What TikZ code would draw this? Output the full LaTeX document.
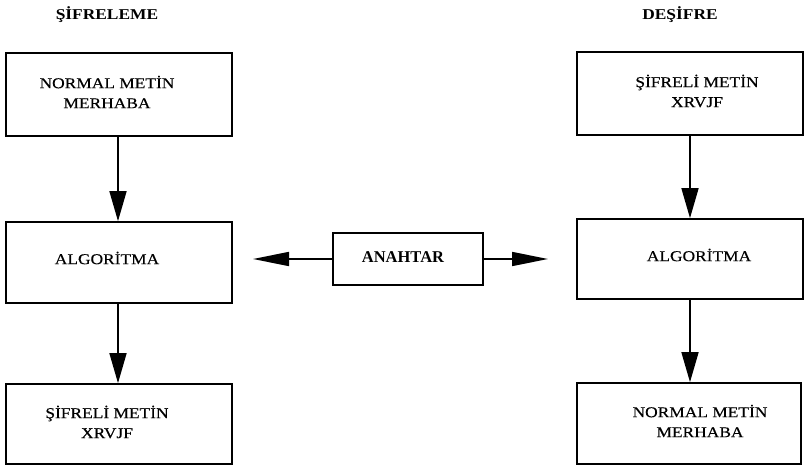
\documentclass[tikz,border=0pt]{standalone}
\usepackage{fontspec}
\setmainfont{Liberation Serif}
\newfontfamily\widefont[FakeStretch=1.16]{Liberation Serif}
\newfontfamily\widedark[FakeStretch=1.16,FakeBold=0.4]{Liberation Serif}
\usetikzlibrary{arrows.meta}
\tikzset{
  box/.style={draw, line width=1.7pt, rectangle, inner sep=0pt},
  txt/.style={font=\widedark\fontsize{15}{20}\selectfont, align=center, inner sep=0pt},
  ttl/.style={font=\widefont\bfseries\fontsize{15}{18}\selectfont, inner sep=0pt},
  vflow/.style={line width=1.6pt, -{Triangle[length=30pt,width=17pt]}},
  hflow/.style={line width=1.6pt, -{Triangle[length=36pt,width=14pt]}}
}
\begin{document}
\begin{tikzpicture}[x=1pt,y=1pt]
\useasboundingbox (0,0) rectangle (806,-466);
% titles
\node[ttl] (t1) at (107,-15) {ŞİFRELEME};
\node[ttl] (t2) at (680,-15) {DEŞİFRE};
% left column boxes
\node[box, minimum width=226pt, minimum height=83pt] (L1) at (119,-94.5) {};
\node[box, minimum width=226pt, minimum height=81pt] (L2) at (119,-262.5) {};
\node[box, minimum width=226pt, minimum height=80pt] (L3) at (119,-424) {};
% right column boxes
\node[box, minimum width=226pt, minimum height=83pt] (R1) at (690,-93.5) {};
\node[box, minimum width=226pt, minimum height=80pt] (R2) at (690,-259) {};
\node[box, minimum width=224pt, minimum height=81pt] (R3) at (689,-423.5) {};
% key
\node[box, minimum width=150pt, minimum height=52pt] (K) at (408,-259) {};
\node[font=\bfseries\fontsize{16.5}{18}\selectfont, inner sep=0pt] (Kt) at (403,-257) {ANAHTAR};
% texts
\node[txt] (l1t) at (107,-92) {NORMAL METİN\\MERHABA};
\node[txt] (l2t) at (107,-258) {ALGORİTMA};
\node[txt] (l3t) at (107,-422) {ŞİFRELİ METİN\\XRVJF};
\node[txt] (r1t) at (697,-91) {ŞİFRELİ METİN\\XRVJF};
\node[txt] (r2t) at (699,-255) {ALGORİTMA};
\node[txt] (r3t) at (700,-421) {NORMAL METİN\\MERHABA};
% arrows
\draw[vflow] (L1.south -| 118,0) -- (L2.north -| 118,0);
\draw[vflow] (L2.south -| 118,0) -- (L3.north -| 118,0);
\draw[vflow] (R1.south) -- (R2.north);
\draw[vflow] (R2.south) -- (R3.north -| R2.south);
\coordinate (kl) at (253,-259);
\coordinate (kr) at (548,-259);
\draw[hflow] (K.west) -- (kl);
\draw[hflow] (K.east) -- (kr);
\end{tikzpicture}
\end{document}
